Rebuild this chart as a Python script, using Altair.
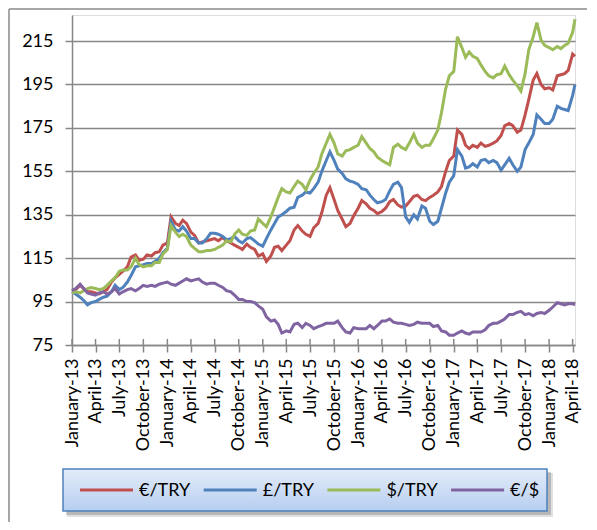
import altair as alt
import pandas as pd

series_names = ["€/TRY", "£/TRY", "$/TRY", "€/$"]
series_colors = ["#C0504D", "#4F81BD", "#9BBB59", "#8064A2"]

# semi-monthly observation dates (1st and 15th), last one 10 April 2018
dates = []
for yr in range(2013, 2019):
    for mo in range(1, 13):
        if yr == 2018 and mo > 4:
            break
        dates.append(f"{yr}-{mo:02d}-01")
        dates.append("2018-04-10" if (yr == 2018 and mo == 4) else f"{yr}-{mo:02d}-15")

eur_try = [
    100, 100.5, 102.5, 101, 99.5, 99.5, 99, 98.5, 99.5, 100.5, 104, 106,
    107.5, 109, 111, 115.5, 116.5, 114, 114.5, 116.5, 116, 117.5, 118, 121,
    122, 134, 131, 130, 132.5, 131, 127, 125.5, 122, 122.5, 123, 123.5,
    124, 123, 124.5, 123, 122, 121, 120, 119, 121.5, 120, 119, 116,
    117, 113.5, 116, 120, 120.5, 118.5, 121, 123, 128, 130, 127.5, 126,
    125, 129, 131, 136, 144, 147.5, 142, 137, 133, 129.5, 131, 134.5,
    138, 141.5, 140, 138, 137, 135.5, 136.5, 138, 141, 142, 139.5, 138.5,
    139, 141, 143.5, 144, 142, 141.5, 143, 144, 145.5, 148, 155, 160,
    162, 174, 172, 167, 165.5, 167, 166, 168, 166.5, 167, 168, 169,
    171.5, 176, 177, 176, 173, 174, 181, 188, 197, 200, 195, 193,
    193.5, 192.5, 199, 199.5, 200, 201.5, 209, 208,
]
gbp_try = [
    99.5, 98.5, 97, 95.5, 93.5, 94.5, 95, 96, 97, 97.5, 99.5, 102.5,
    100.5, 101.5, 104, 107, 111, 111.5, 112, 112.5, 112.5, 113.5, 115, 117.5,
    119.5, 132, 128, 127.5, 129.5, 127.5, 124, 124, 122, 122, 124, 126.5,
    126.5, 126, 125, 123.5, 124, 125, 123, 122, 124, 124.5, 123, 121.5,
    120.5, 124, 128, 131, 134, 135, 136.5, 138, 138.5, 143, 144, 145.5,
    145, 147, 150, 155, 160, 164, 160, 156, 154, 151.5, 150.5, 150,
    149, 147, 146.5, 144, 142, 140.5, 141, 142, 146, 149, 150, 147.5,
    134, 131.5, 135, 133, 139, 138, 132, 130.5, 132, 138, 145, 150,
    153, 165, 162, 156.5, 157, 158.5, 157, 160, 160.5, 159, 160, 159,
    155.5, 158, 161, 158, 155, 157, 165, 168, 172, 181, 179, 177,
    177, 179, 185, 184, 183.5, 183, 190, 195,
]
usd_try = [
    99, 99.5, 99, 100, 101, 101.5, 101, 100.5, 101, 102.5, 104.5, 106,
    109, 109.5, 109.5, 111, 115, 112, 111, 111.5, 111.5, 113, 113, 117,
    119, 130, 127, 125, 126, 125, 121, 119.5, 118, 118, 118.5, 118.5,
    119, 120, 121, 123, 122.5, 126, 128, 126, 125.5, 127.5, 128, 133,
    131, 129.5, 134, 138.5, 143, 147, 145.5, 145, 148, 150.5, 149, 146.5,
    151, 154, 157, 163, 168, 172, 168, 163, 162, 164.5, 165, 166,
    167, 171, 168, 165.5, 164, 161.5, 160, 159, 158, 166, 167.5, 166,
    165, 168, 172, 168, 166, 167, 167, 170, 174, 182, 193, 199,
    201, 217, 212, 207.5, 210, 208, 207, 204, 201, 199, 198, 199.5,
    200, 203.5, 199.5, 197, 194.5, 192, 200, 211, 217, 223.5, 215.5, 213,
    212, 211, 212.5, 211.5, 213, 214, 219, 225,
]
eur_usd = [
    100, 101, 103, 101, 99, 98.5, 98, 99, 99.5, 98.5, 99.5, 101,
    98.5, 99.5, 100.5, 101, 100, 101, 102.5, 102, 102.5, 102, 103, 103.5,
    104, 103, 102.5, 103.5, 104.5, 105.5, 104.5, 105, 105.5, 104, 103, 103.5,
    103.5, 102.5, 101.5, 100, 99.5, 98, 96, 96, 95, 95, 94.5, 93,
    91.5, 88, 86, 86.5, 84.5, 80.5, 81.5, 81, 84.5, 85, 83, 85,
    84, 82.5, 83.5, 84, 85, 85, 85, 86, 83, 81, 80.5, 83,
    82.5, 82.5, 82.5, 84, 82.5, 84, 86, 86, 87, 85.5, 85, 85,
    84.5, 84, 84.5, 85.5, 85, 85, 85, 83.5, 84, 81.5, 81, 79.5,
    79.5, 80.5, 81.5, 80.5, 80, 81, 81, 81, 82, 84, 85, 85,
    86, 87, 89, 89, 90, 90.5, 89, 89.5, 88.5, 89.5, 90, 89.5,
    91, 92.5, 94.5, 94, 93.5, 94, 94, 93.5,
]
y_ticks = [75, 95, 115, 135, 155, 175, 195, 215]
tick_dates = [f"{yr}-{mo:02d}-01" for yr in range(2013, 2019) for mo in (1, 4, 7, 10)
              if not (yr == 2018 and mo > 4)]

rows = []
for name, vals in zip(series_names, [eur_try, gbp_try, usd_try, eur_usd]):
    for d, v in zip(dates, vals):
        rows.append({"date": d, "series": name, "value": v})
df = pd.DataFrame(rows)
ticks_df = pd.DataFrame({"date": tick_dates})

W, H = 503, 330
FONT = "Lato"
GRAY = "#878787"

x_scale = alt.Scale(type="utc", domain=[alt.DateTime(year=2013, month=1, date=1, utc=True),
                                        alt.DateTime(year=2018, month=4, date=10, utc=True)], nice=False)
y_scale = alt.Scale(domain=[75, 227], nice=False, zero=False)

x_axis = alt.Axis(
    values=[alt.DateTime(year=int(t[:4]), month=int(t[5:7]), date=1, utc=True) for t in tick_dates],
    labelExpr="utcFormat(datum.value, '%B-%y')",
    labelAngle=270, labelAlign="right", labelBaseline="middle",
    labelFont=FONT, labelFontSize=18, labelColor="#000000", labelPadding=6,
    labelOverlap=False, labelFlush=False, labelBound=False,
    tickSize=7, tickColor=GRAY, tickWidth=1.5,
    domainColor=GRAY, domainWidth=1.5, grid=False, title=None,
)
y_axis = alt.Axis(
    values=y_ticks, labelFont=FONT, labelFontSize=18, labelColor="#000000", labelPadding=12,
    tickSize=7, tickColor=GRAY, tickWidth=1.5, domainColor=GRAY, domainWidth=1.5,
    grid=True, gridColor=GRAY, gridWidth=1.5, title=None,
)

color = alt.Color("series:N", scale=alt.Scale(domain=series_names, range=series_colors), legend=None)

one = pd.DataFrame({"k": [0]})

# legend frame (decoration)
shadow = alt.Chart(one).mark_rect(color="#000000", opacity=0.18).encode(
    x=alt.value(-6), x2=alt.value(479), y=alt.value(457), y2=alt.value(500))
shadow2 = alt.Chart(one).mark_rect(color="#000000", opacity=0.12).encode(
    x=alt.value(-5), x2=alt.value(481), y=alt.value(458), y2=alt.value(502))
legend_box = alt.Chart(one).mark_rect(
    stroke="#4F81BD", strokeWidth=1.5,
    color=alt.Gradient(gradient="linear", x1=0, x2=0, y1=0, y2=1,
                       stops=[alt.GradientStop(offset=0, color="#E3ECF9"),
                              alt.GradientStop(offset=1, color="#B7CEF0")]),
).encode(x=alt.value(-9), x2=alt.value(475), y=alt.value(454), y2=alt.value(496))

legend_items = []
LEG_Y = 475
for i, (name, col) in enumerate(zip(series_names, series_colors)):
    x0 = 8 + i * 123.7
    legend_items.append(alt.Chart(one).mark_rule(color=col, strokeWidth=3).encode(
        x=alt.value(x0), x2=alt.value(x0 + 53), y=alt.value(LEG_Y)))
    legend_items.append(alt.Chart(one).mark_text(
        text=name, align="left", baseline="middle", font=FONT, fontSize=18, color="#000000",
    ).encode(x=alt.value(x0 + 59), y=alt.value(LEG_Y + 1)))

left_border = alt.Chart(one).mark_rule(color="#8A8A8A", strokeWidth=1.5).encode(
    x=alt.value(-63), y=alt.value(-6), y2=alt.value(520))
top_border = alt.Chart(one).mark_rule(color="#8A8A8A", strokeWidth=1.5).encode(
    y=alt.value(-6), x=alt.value(-63), x2=alt.value(560))

upper_ticks = alt.Chart(ticks_df).mark_rule(color=GRAY, strokeWidth=1.5).encode(
    x=alt.X("date:T", scale=x_scale, axis=x_axis),
    y=alt.value(H - 6), y2=alt.value(H),
)

lines = []
for name in series_names:
    lines.append(
        alt.Chart(df).transform_filter(alt.datum.series == name).mark_line(strokeWidth=3).encode(
            x=alt.X("date:T", scale=x_scale, axis=x_axis),
            y=alt.Y("value:Q", scale=y_scale, axis=y_axis),
            color=color,
        )
    )

chart = alt.layer(left_border, top_border, shadow2, shadow, legend_box, *legend_items,
                  upper_ticks, *lines).properties(
    width=W, height=H,
    autosize=alt.AutoSizeParams(type="none"),
    padding={"left": 64, "top": 7, "right": 12, "bottom": 177},
).configure_view(stroke=None).configure(background="#FFFFFF")

chart.save("out.html", embed_options={"renderer": "svg", "actions": False})
